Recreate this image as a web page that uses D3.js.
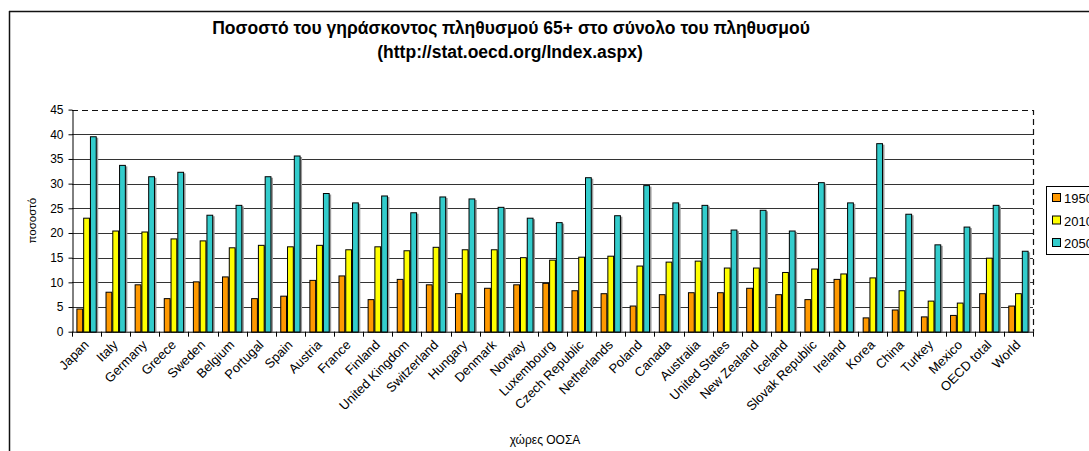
<!DOCTYPE html>
<html>
<head>
<meta charset="utf-8">
<script src="https://cdn.jsdelivr.net/npm/d3@7"></script>
<style>
  body { margin: 0; background: #fff; }
  svg { display: block; font-family: "Liberation Sans", Arial, sans-serif; }
</style>
</head>
<body>
<svg id="chart" width="1089" height="451"></svg>
<script>
// data
const countries = ['Japan', 'Italy', 'Germany', 'Greece', 'Sweden', 'Belgium', 'Portugal', 'Spain',
  'Austria', 'France', 'Finland', 'United Kingdom', 'Switzerland', 'Hungary', 'Denmark', 'Norway',
  'Luxembourg', 'Czech Republic', 'Netherlands', 'Poland', 'Canada', 'Australia', 'United States',
  'New Zealand', 'Iceland', 'Slovak Republic', 'Ireland', 'Korea', 'China', 'Turkey', 'Mexico',
  'OECD total', 'World'];
const years = ['1950', '2010', '2050'];
const v1950 = [4.7, 8.1, 9.6, 6.8, 10.2, 11.2, 6.8, 7.3, 10.5, 11.4, 6.6, 10.7, 9.6, 7.8, 8.9, 9.6,
  9.9, 8.4, 7.8, 5.3, 7.6, 8.0, 8.0, 8.9, 7.6, 6.6, 10.7, 2.9, 4.5, 3.1, 3.4, 7.8, 5.3];
const v2010 = [23.1, 20.5, 20.3, 18.9, 18.5, 17.1, 17.6, 17.3, 17.6, 16.7, 17.3, 16.5, 17.2, 16.7, 16.7, 15.1,
  14.6, 15.2, 15.4, 13.4, 14.2, 14.4, 13.0, 13.0, 12.1, 12.8, 11.8, 11.0, 8.4, 6.3, 5.9, 15.0, 7.8];
const v2050 = [39.6, 33.8, 31.5, 32.4, 23.7, 25.7, 31.5, 35.7, 28.1, 26.2, 27.6, 24.2, 27.4, 27.0, 25.3, 23.1,
  22.2, 31.3, 23.6, 29.7, 26.2, 25.7, 20.7, 24.7, 20.5, 30.3, 26.2, 38.2, 23.9, 17.7, 21.3, 25.7, 16.4];
const yTicks = [0, 5, 10, 15, 20, 25, 30, 35, 40, 45];
const colors = ['#ff9900', '#ffff00', '#33cccc'];

const series = [v1950, v2010, v2050];
const rows = countries.map((c, i) => ({ country: c, vals: series.map(s => s[i]) }));

const svg = d3.select('#chart');
const plotL = 72, plotR = 1033, plotT = 109.6, plotB = 331.7;

// outer frame
svg.append('line').attr('x1', 9.5).attr('x2', 9.5).attr('y1', 11).attr('y2', 451)
  .attr('stroke', '#111').attr('stroke-width', 1.5);
svg.append('line').attr('x1', 9).attr('x2', 1089).attr('y1', 11.5).attr('y2', 11.5)
  .attr('stroke', '#111').attr('stroke-width', 1.5);

// title
svg.append('text').attr('x', 511).attr('y', 34).attr('text-anchor', 'middle')
  .attr('font-size', 17.5).attr('font-weight', 'bold')
  .text('Ποσοστό του γηράσκοντος πληθυσμού 65+ στο σύνολο του πληθυσμού');
svg.append('text').attr('x', 510).attr('y', 58).attr('text-anchor', 'middle')
  .attr('font-size', 17.5).attr('font-weight', 'bold')
  .text('(http://stat.oecd.org/Index.aspx)');

const x = d3.scaleBand().domain(countries).range([plotL, plotR]);
const xIn = d3.scaleBand().domain(years).range([0, x.bandwidth()]).paddingOuter(0.65).paddingInner(0);
const y = d3.scaleLinear().domain([0, 45]).range([plotB, plotT]);

// gridlines
svg.append('g').selectAll('line').data(yTicks.filter(t => t > 0 && t < 45)).join('line')
  .attr('x1', plotL).attr('x2', plotR)
  .attr('y1', d => Math.round(y(d)) + 0.5).attr('y2', d => Math.round(y(d)) + 0.5)
  .attr('stroke', '#333').attr('stroke-width', 1.2);

// plot area dashed border (top and right)
svg.append('path')
  .attr('d', `M${plotL},${Math.round(plotT) + 0.5}H${plotR + 0.5}V${plotB}`)
  .attr('fill', 'none').attr('stroke', '#111').attr('stroke-width', 1.2)
  .attr('stroke-dasharray', '6,4');

// bars
const groups = svg.append('g').selectAll('g').data(rows).join('g')
  .attr('transform', d => `translate(${x(d.country)},0)`);
groups.selectAll('rect.shadow').data(d => d.vals).join('rect')
  .attr('class', 'shadow')
  .attr('x', (d, i) => xIn(years[i]) + 1.5)
  .attr('y', d => y(d) + 1.5)
  .attr('width', xIn.bandwidth())
  .attr('height', d => plotB - y(d) - 1.5)
  .attr('fill', '#999');
groups.selectAll('rect.bar').data(d => d.vals).join('rect')
  .attr('class', 'bar')
  .attr('x', (d, i) => xIn(years[i]) + 0.5)
  .attr('y', d => y(d) + 0.5)
  .attr('width', xIn.bandwidth() - 1)
  .attr('height', d => plotB - y(d))
  .attr('fill', (d, i) => colors[i])
  .attr('stroke', '#000').attr('stroke-width', 1);

// y axis
const yAxis = svg.append('g').attr('transform', `translate(${plotL + 0.5},0)`)
  .call(d3.axisLeft(y).tickValues(yTicks).tickSize(4).tickSizeOuter(0).tickPadding(5));
yAxis.select('.domain').attr('stroke', '#000');
yAxis.selectAll('.tick line').attr('stroke', '#000');
yAxis.selectAll('text').attr('font-size', 12).attr('fill', '#000')
  .attr('font-family', '"Liberation Sans", Arial, sans-serif');

// x axis with ticks at category boundaries
svg.append('line').attr('x1', plotL).attr('x2', plotR + 0.5)
  .attr('y1', plotB + 0.5).attr('y2', plotB + 0.5).attr('stroke', '#000');
svg.append('g').selectAll('line').data(countries.concat(['_end'])).join('line')
  .attr('x1', (d, i) => Math.round(plotL + i * x.step()) + 0.5)
  .attr('x2', (d, i) => Math.round(plotL + i * x.step()) + 0.5)
  .attr('y1', plotB).attr('y2', plotB + 5).attr('stroke', '#000');

svg.append('g').selectAll('text').data(countries).join('text')
  .attr('transform', d => `translate(${x(d) + x.bandwidth() / 2 + 3},${plotB + 14}) rotate(-45)`)
  .attr('text-anchor', 'end')
  .attr('font-size', 13)
  .text(d => d);

// axis titles
svg.append('text').attr('transform', `translate(36,${(plotT + plotB) / 2}) rotate(-90)`)
  .attr('text-anchor', 'middle').attr('font-size', 11.5).text('ποσοστό');
svg.append('text').attr('x', 545).attr('y', 444).attr('text-anchor', 'middle')
  .attr('font-size', 12).text('χώρες ΟΟΣΑ');

// legend
const lg = svg.append('g').attr('transform', 'translate(1046,186)');
lg.append('rect').attr('x', 0.5).attr('y', 0.5).attr('width', 80).attr('height', 68)
  .attr('fill', '#fff').attr('stroke', '#000');
years.forEach((yr, i) => {
  const cy = 12 + i * 22.5;
  lg.append('rect').attr('x', 6.5).attr('y', cy - 4.5).attr('width', 8).attr('height', 8)
    .attr('fill', colors[i]).attr('stroke', '#000');
  lg.append('text').attr('x', 18).attr('y', cy + 5).attr('font-size', 13).text(yr);
});
</script>
</body>
</html>
